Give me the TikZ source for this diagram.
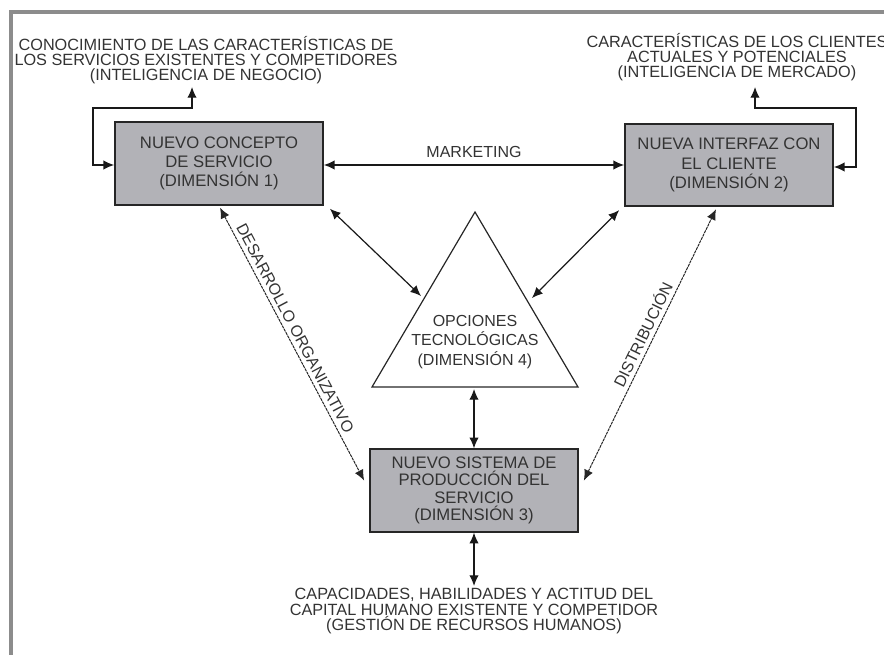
\documentclass[tikz,border=0pt]{standalone}
\usepackage{fontspec}
\setmainfont{Liberation Sans}
\usetikzlibrary{arrows.meta,calc}
\definecolor{boxfill}{HTML}{B2B2B7}
\definecolor{ink}{HTML}{333333}
\definecolor{framegray}{HTML}{8C8C8C}
\tikzset{
  tip/.tip={Latex[length=8pt 0 0,width=7pt 0 0]},
  dimbox/.style={draw=black!85, line width=1.3pt, fill=boxfill, minimum width=156pt,
    minimum height=62pt, inner sep=0pt, align=center, text=ink,
    font=\fontsize{12.5}{14.5}\selectfont},
  info/.style={align=center, text=ink, inner sep=0pt, font=\fontsize{12.2}{11.4}\selectfont},
  link/.style={draw=black!90, line width=0.9pt, {tip}-{tip}},
  thinlink/.style={draw=black!85, line width=0.75pt, dash pattern=on 2.2pt off 0.6pt, {tip}-{tip}},
  tag/.style={text=ink, inner sep=2pt, font=\fontsize{12}{13}\selectfont},
}
\begin{document}
\begin{tikzpicture}[x=0.75pt,y=-0.75pt]
\useasboundingbox (0,0) rectangle (884,655);
% page frame
\draw[framegray, line width=3pt] (9,12.5) -- (890,12.5);
\draw[framegray, line width=2.6pt] (11,11) -- (11,660);

% dimension boxes
\node[dimbox] (b1) at (219,163.5) {NUEVO CONCEPTO\\DE SERVICIO\\(DIMENSIÓN 1)};
\node[dimbox] (b2) at (729,165) {NUEVA INTERFAZ CON\\EL CLIENTE\\(DIMENSIÓN 2)};
\node[dimbox, font=\fontsize{12.5}{13}\selectfont] (b3) at (474,490.5) {NUEVO SISTEMA DE\\PRODUCCIÓN DEL\\SERVICIO\\(DIMENSIÓN 3)};

% technology triangle
\coordinate (apex) at (475,212);
\coordinate (bl) at (372,387);
\coordinate (br) at (578,387);
\draw[black!85, line width=0.9pt, line join=miter] (apex) -- (bl) -- (br) -- cycle;
\node[info, font=\fontsize{12}{14.5}\selectfont] (tri) at (475,342) {OPCIONES\\TECNOLÓGICAS\\(DIMENSIÓN 4)};
\coordinate (tl) at (421,296);
\coordinate (tr) at (532,298);
\coordinate (tb) at (474,389);

% external knowledge sources
\node[info] (k1) at (206,60) {CONOCIMIENTO DE LAS CARACTERÍSTICAS DE\\LOS SERVICIOS EXISTENTES Y COMPETIDORES\\(INTELIGENCIA DE NEGOCIO)};
\node[info] (k2) at (737,57) {CARACTERÍSTICAS DE LOS CLIENTES\\ACTUALES Y POTENCIALES\\(INTELIGENCIA DE MERCADO)};
\node[info] (k3) at (474,611) {CAPACIDADES, HABILIDADES Y ACTITUD DEL\\CAPITAL HUMANO EXISTENTE Y COMPETIDOR\\(GESTIÓN DE RECURSOS HUMANOS)};

% feedback loops to the sources
\draw[link] (b1.west |- 0,165) -- (93,165) -- (93,108) -- (192,108) -- (192,87);
\draw[link] (b2.east |- 0,167) -- (856,167) -- (856,108) -- (755,108) -- (755,87);
\draw[link] (b3.south) -- (474,586);

% relations between dimensions
\draw[link] (b1.east |- 0,165) -- node[tag, above=3pt] {MARKETING} (b2.west |- 0,165);
\draw[link] ($(b1.south east)+(6,3)$) -- (tl);
\draw[link] ($(b2.south west)+(-5,3)$) -- (tr);
\draw[link] (tb) -- (b3.north);
\draw[thinlink] ($(b1.south)+(1,2)$) -- node[tag, sloped, above=1pt, pos=0.46] {DESARROLLO ORGANIZATIVO} ($(b3.west)+(-5,-10)$);
\draw[thinlink] ($(b3.east)+(5,-10)$) -- node[tag, sloped, above=1pt, pos=0.52] {DISTRIBUCIÓN} ($(b2.south)+(-13,2)$);
\end{tikzpicture}
\end{document}
